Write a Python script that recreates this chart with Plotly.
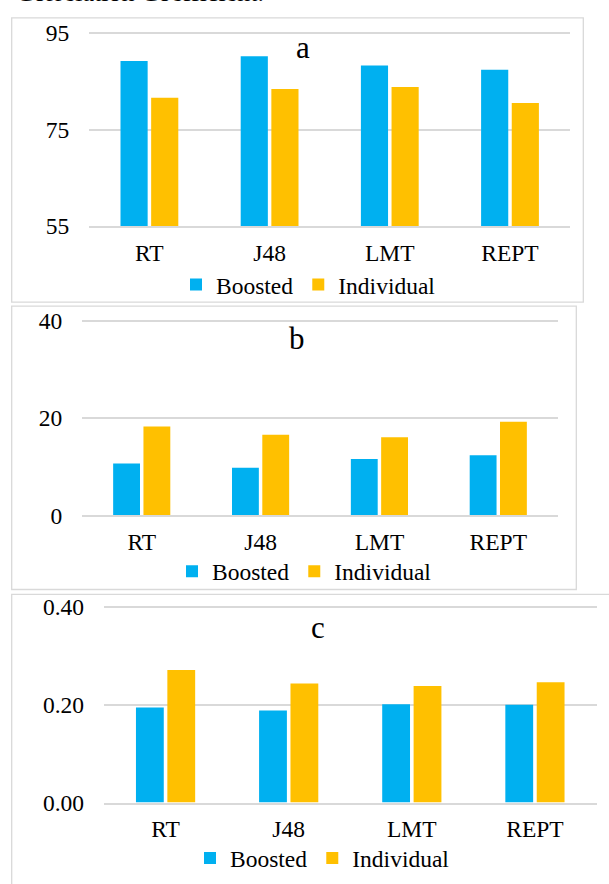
import plotly.graph_objects as go

# ---------------- data ----------------
categories = ["RT", "J48", "LMT", "REPT"]
series_names = ["Boosted", "Individual"]

a_boosted = [89.2, 90.2, 88.3, 87.4]
a_individual = [81.6, 83.4, 83.8, 80.5]

b_boosted = [10.7, 9.8, 11.6, 12.4]
b_individual = [18.3, 16.6, 16.1, 19.3]

c_boosted = [0.194, 0.188, 0.201, 0.200]
c_individual = [0.271, 0.243, 0.238, 0.246]

a_ticks = [55, 75, 95]
b_ticks = [0, 20, 40]
c_ticks = [0.0, 0.2, 0.4]
c_ticktext = ["0.00", "0.20", "0.40"]

panel_titles = ["a", "b", "c"]
top_caption = "Correlation Coefficient."

# ---------------- style ----------------
W, H = 609, 884
BLUE = "#00B0F0"
GOLD = "#FFC000"
GRID = "#D9D9D9"
FONT = "Liberation Serif, Times New Roman, serif"
TXT = "#000000"
FS = 23.5


def px_x(p):
    return p / W


def px_y(p):
    return 1 - p / H


fig = go.Figure()

panels = [
    dict(x0=89.3, x1=570.1, yb=221.7, vb=55, yr=23.7, vr=95, yt=20,
         boosted=a_boosted, indiv=a_individual, ticks=a_ticks, ticktext=[str(t) for t in a_ticks],
         title=panel_titles[0], tx=303, ty=38.5, ly=282, lx=176),
    dict(x0=82.3, x1=557.7, yb=519.0, vb=0, yr=319.3, vr=40, yt=316,
         boosted=b_boosted, indiv=b_individual, ticks=b_ticks, ticktext=[str(t) for t in b_ticks],
         title=panel_titles[1], tx=297, ty=337, ly=576.5, lx=172),
    dict(x0=104.0, x1=596.5, yb=813.7, vb=0, yr=612.7, vr=0.4, yt=609,
         boosted=c_boosted, indiv=c_individual, ticks=c_ticks, ticktext=c_ticktext,
         title=panel_titles[2], tx=318.4, ty=634, ly=871, lx=190),
]

layout_updates = {}
annotations = []
for i, p in enumerate(panels):
    n = "" if i == 0 else str(i + 1)
    xa, ya = "x" + n, "y" + n
    leg = "legend" + n
    scale = (p["vr"] - p["vb"]) / (p["yb"] - p["yr"])
    vtop = p["vr"] + (p["yr"] - p["yt"]) * scale
    fig.add_trace(go.Bar(x=categories, y=p["boosted"], name=series_names[0],
                         marker=dict(color=BLUE, line=dict(width=0)),
                         xaxis=xa, yaxis=ya, legend=leg))
    fig.add_trace(go.Bar(x=categories, y=p["indiv"], name=series_names[1],
                         marker=dict(color=GOLD, line=dict(width=0)),
                         xaxis=xa, yaxis=ya, legend=leg))
    layout_updates["xaxis" + n] = dict(
        domain=[px_x(p["x0"]), px_x(p["x1"])], anchor=ya,
        showgrid=False, showline=True, linecolor=GRID, linewidth=1.5,
        ticks="", ticklabelstandoff=5, tickfont=dict(family=FONT, size=FS, color=TXT),
        fixedrange=True,
    )
    layout_updates["yaxis" + n] = dict(
        domain=[px_y(p["yb"]), px_y(p["yt"])], anchor=xa,
        range=[p["vb"], vtop], tickvals=p["ticks"], ticktext=p["ticktext"],
        showgrid=True, gridcolor=GRID, gridwidth=1.5, zeroline=False, showline=False,
        ticks="", ticklabelstandoff=19, tickfont=dict(family=FONT, size=FS, color=TXT),
        fixedrange=True,
    )
    layout_updates[leg] = dict(
        orientation="h", x=px_x(p["lx"]), xanchor="left",
        y=px_y(p["ly"]), yanchor="middle",
        font=dict(family=FONT, size=FS, color=TXT), bgcolor="rgba(0,0,0,0)",
        itemclick=False, itemdoubleclick=False,
    )
    annotations.append(dict(text=p["title"], x=px_x(p["tx"]), y=px_y(p["ty"]),
                            xref="paper", yref="paper", xanchor="center", yanchor="middle",
                            showarrow=False, font=dict(family=FONT, size=31, color=TXT)))

annotations.append(dict(text=top_caption, x=px_x(14), y=px_y(-18), xref="paper", yref="paper",
                        xanchor="left", yanchor="middle", showarrow=False,
                        font=dict(family=FONT, size=26, color=TXT)))

shapes = [
    dict(type="rect", xref="paper", yref="paper", x0=px_x(11.7), x1=px_x(583.3),
         y0=px_y(300), y1=px_y(8), line=dict(color=GRID, width=1.3)),
    dict(type="rect", xref="paper", yref="paper", x0=px_x(11.7), x1=px_x(576.3),
         y0=px_y(595), y1=px_y(304), line=dict(color=GRID, width=1.3)),
    dict(type="rect", xref="paper", yref="paper", x0=px_x(11.7), x1=px_x(620),
         y0=px_y(900), y1=px_y(600), line=dict(color=GRID, width=1.3)),
]

fig.update_layout(
    width=W, height=H, margin=dict(l=0, r=0, t=0, b=0),
    paper_bgcolor="white", plot_bgcolor="white",
    barmode="group", bargap=0.49, bargroupgap=0.114,
    showlegend=True, annotations=annotations, shapes=shapes,
    **layout_updates,
)

fig.write_html("out.html")
